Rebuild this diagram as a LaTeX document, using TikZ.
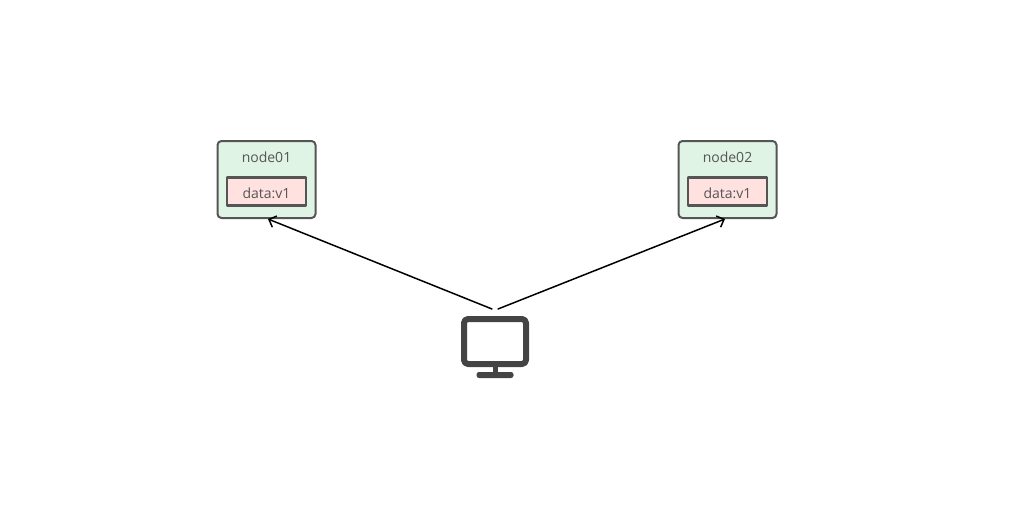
\documentclass[tikz,border=0pt]{standalone}
\usepackage{fontspec}
\setmainfont{Open Sans}
\usetikzlibrary{arrows.meta}
\definecolor{nodegreen}{HTML}{DFF4E5}
\definecolor{datapink}{HTML}{FFE1DF}
\definecolor{icongray}{HTML}{444444}
\definecolor{linegray}{HTML}{555555}
\tikzset{
	nodebox/.style={draw=linegray,fill=nodegreen,line width=2pt,rounded corners=4pt,minimum width=98pt,minimum height=77pt,inner sep=0pt,outer sep=0pt},
	databox/.style={draw=linegray,fill=datapink,line width=2.2pt,minimum width=79pt,minimum height=28pt,inner sep=0pt,outer sep=0pt},
	nodetext/.style={text=linegray,inner sep=0pt,font=\fontsize{14}{16}\selectfont},
	screen/.style={draw=icongray,fill=white,line width=6pt,rounded corners=4pt,minimum width=62pt,minimum height=45pt,inner sep=0pt,outer sep=0pt},
}
\begin{document}
\begin{tikzpicture}[line join=round, line cap=round,>={Straight Barb[length=6pt,width=12pt]},x=1pt,y=-1pt]
				\useasboundingbox (0,0) rectangle (1010,522);
				% the two machines
				\node[nodebox] (node01) at (266.5,179.5) {};
				\node[databox] (data01) at (266.5,191.5) {};
				\node[nodetext] (name01) at (266.5,157.5) {node01};
				\node[nodetext] (text01) at (266.5,193.5) {data:v1};
				\node[nodebox] (node02) at (727.5,179.5) {};
				\node[databox] (data02) at (727.5,191.5) {};
				\node[nodetext] (name02) at (727.5,157.5) {node02};
				\node[nodetext] (text02) at (727.5,193.5) {data:v1};
				% the monitor
				\node[screen] (pc) at (495,341.5) {};
				\node[fill=icongray,minimum width=5pt,minimum height=8pt,inner sep=0pt,outer sep=0pt] (stand) at (495.5,369.5) {};
				\node[fill=icongray,rounded corners=2.5pt,minimum width=37pt,minimum height=6pt,inner sep=0pt,outer sep=0pt] (base) at (495,375) {};
				\coordinate (pcl) at ([shift={(-3,-10)}]pc.north);
				\coordinate (pcr) at ([shift={(3,-10)}]pc.north);
				\coordinate (tipl) at ([shift={(1.5,1)}]node01.south);
				\coordinate (tipr) at ([shift={(-2.5,1)}]node02.south);
				\draw[->,line width=1.5pt] (pcl)--(tipl);
				\draw[->,line width=1.5pt] (pcr)--(tipr);
\end{tikzpicture}
\end{document}
